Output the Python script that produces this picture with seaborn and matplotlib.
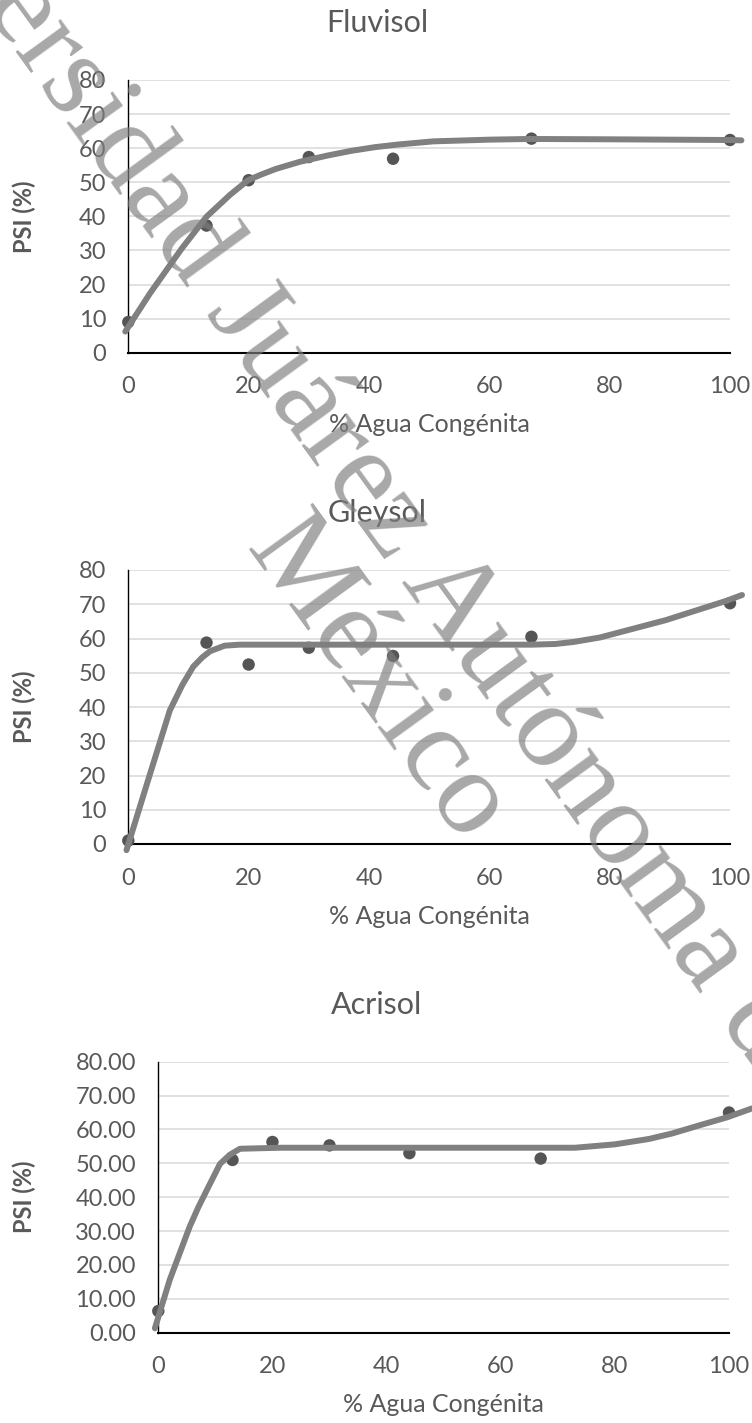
import numpy as np
import pandas as pd
import matplotlib
matplotlib.use("Agg")
import matplotlib.pyplot as plt
import seaborn as sns

# Data
agua = [0, 13, 20, 30, 44, 67, 100]
psi_fluvisol = [9.0, 37.3, 50.6, 57.4, 56.9, 62.8, 62.4]
psi_gleysol = [1.0, 58.8, 52.4, 57.3, 54.9, 60.5, 70.3]
psi_acrisol = [6.4, 51.0, 56.3, 55.3, 53.0, 51.4, 65.0]

# Fitted curves
curve_x_fluvisol = [-0.5, 3.6, 8.9, 13.0, 16.9, 19.9, 22.0, 24.5, 28.5, 33.0, 37.0, 41.0, 45.0, 50.7, 60.0, 66.7, 80.0, 99.7, 101.9]
curve_y_fluvisol = [6.2, 17.4, 30.6, 39.9, 46.3, 50.6, 52.2, 53.9, 56.0, 57.8, 59.2, 60.3, 61.1, 62.0, 62.5, 62.7, 62.6, 62.4, 62.3]
curve_x_gleysol = [-0.3, 3.3, 6.9, 9.0, 10.8, 12.3, 13.6, 16.0, 18.5, 40.0, 67.0, 71.0, 74.0, 78.4, 89.4, 99.4, 102.0]
curve_y_gleysol = [-1.8, 18.7, 39.0, 46.5, 51.8, 54.5, 56.3, 57.9, 58.2, 58.2, 58.2, 58.4, 59.0, 60.3, 65.4, 71.0, 72.7]
curve_x_acrisol = [-0.6, 2.0, 5.5, 7.0, 8.5, 10.8, 12.5, 14.3, 21.3, 50.0, 73.0, 80.0, 86.0, 90.0, 95.0, 99.7, 104.0]
curve_y_acrisol = [1.3, 15.6, 31.3, 37.0, 42.1, 49.8, 52.5, 54.3, 54.6, 54.6, 54.6, 55.6, 57.2, 58.8, 61.3, 63.6, 66.2]

titles = ["Fluvisol", "Gleysol", "Acrisol"]
y_ticks = [0, 10, 20, 30, 40, 50, 60, 70, 80]
x_ticks = [0, 20, 40, 60, 80, 100]

sns.set_style("white")
plt.rcParams["font.family"] = ["Lato", "DejaVu Sans"]

W, H = 752, 1423
fig = plt.figure(figsize=(W / 100, H / 100), dpi=100)

# axes boxes in pixels: left, right, top, bottom
boxes = [(128.3, 730, 80, 352.7), (128.3, 730, 570, 844), (158.3, 729, 1061.7, 1332.7)]
series = [
    (psi_fluvisol, curve_x_fluvisol, curve_y_fluvisol, "%d"),
    (psi_gleysol, curve_x_gleysol, curve_y_gleysol, "%d"),
    (psi_acrisol, curve_x_acrisol, curve_y_acrisol, "%.2f"),
]
text_color = "#595959"

for (l, r, t, b), title, (pts, cx, cy, fmt) in zip(boxes, titles, series):
    ax = fig.add_axes([l / W, 1 - b / H, (r - l) / W, (b - t) / H])
    df_pts = pd.DataFrame({"x": agua, "y": pts})
    df_curve = pd.DataFrame({"x": cx, "y": cy})
    sns.scatterplot(data=df_pts, x="x", y="y", ax=ax, color="#555555", s=80,
                    edgecolor="none", zorder=3, clip_on=False)
    sns.lineplot(data=df_curve, x="x", y="y", ax=ax, sort=False, estimator=None,
                 color="#808080", linewidth=4.3, zorder=4, clip_on=False)
    ax.set_xlim(0, 100)
    ax.set_ylim(0, 80)
    ax.set_xticks(x_ticks)
    ax.set_yticks(y_ticks)
    ax.set_yticklabels([fmt % v for v in y_ticks])
    ax.grid(axis="y", color="#d9d9d9", linewidth=1.1)
    ax.set_axisbelow(True)
    for s in ["top", "right"]:
        ax.spines[s].set_visible(False)
    ax.spines["left"].set_color("#000000")
    ax.spines["left"].set_linewidth(1.0)
    ax.spines["bottom"].set_color("#000000")
    ax.spines["bottom"].set_linewidth(1.5)
    ax.tick_params(axis="both", length=0, labelsize=17, labelcolor=text_color)
    ax.tick_params(axis="y", pad=16)
    ax.tick_params(axis="x", pad=17)
    ax.set_xlabel("% Agua Congénita", fontsize=18, color=text_color, va="center")
    ax.set_ylabel("PSI (%)", fontsize=17, color=text_color, fontweight="bold", va="center")
    ax.xaxis.set_label_coords(0.5, -72 / (b - t))
    ax.yaxis.set_label_coords((24 - l) / (r - l), 0.5)
    ax.set_title(title, fontsize=22, color=text_color, pad=0,
                 x=(377 - l) / (r - l), y=1 + 57 / (b - t), va="center")

# watermark
wm = dict(family=["Liberation Serif", "DejaVu Serif"], fontsize=87, color="#7f7f7f",
          alpha=0.68, rotation=-54, rotation_mode="anchor", va="baseline", zorder=10)
fig.text(-160 / W, 1 + 190 / H, "Universidad Juárez Autónoma de Tabasco", ha="left", **wm)
fig.text(353 / W, 1 - 698 / H, "México", ha="center", **wm)

fig.savefig("out.png", dpi=100)
